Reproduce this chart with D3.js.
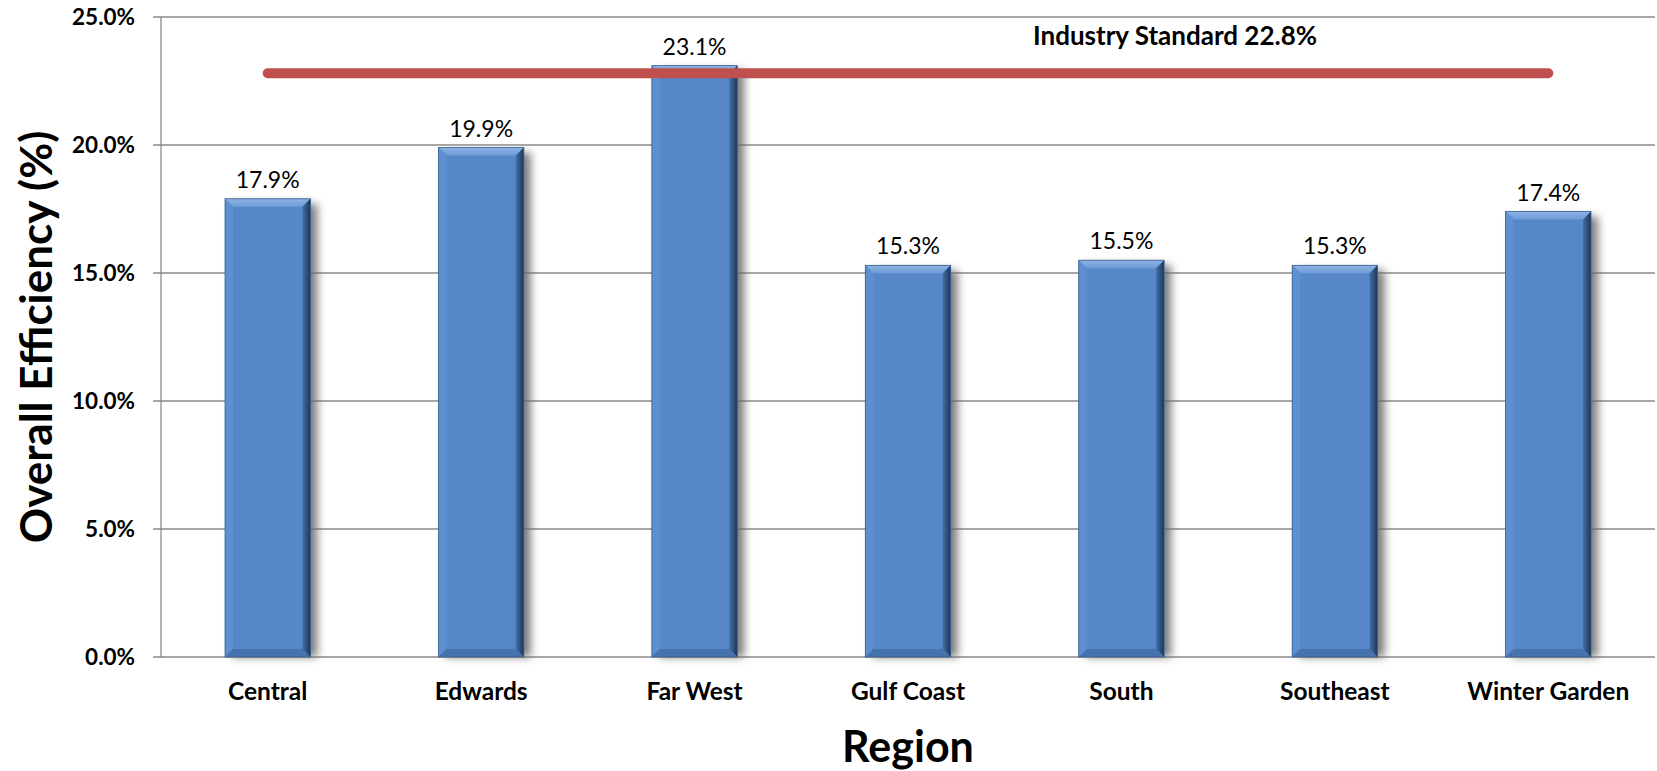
<!DOCTYPE html>
<html>
<head>
<meta charset="utf-8">
<script src="https://cdn.jsdelivr.net/npm/d3@7"></script>
<style>
  body { margin: 0; background: #fff; }
  svg { display: block; font-family: Lato, "Open Sans", sans-serif; }
</style>
</head>
<body>
<div id="chart"></div>
<script>
var regions = ['Central', 'Edwards', 'Far West', 'Gulf Coast', 'South', 'Southeast', 'Winter Garden'];
var efficiency = [17.9, 19.9, 23.1, 15.3, 15.5, 15.3, 17.4];
var yTicks = [0, 5, 10, 15, 20, 25];
var industryStandard = 22.8;

var width = 1657,
    height = 771;
var plotLeft = 161, plotRight = 1655, plotTop = 17, plotBottom = 657;

var svg = d3.select('#chart').append('svg')
    .attr('width', width)
    .attr('height', height);

var defs = svg.append('defs');
defs.append('filter')
    .attr('id', 'blur')
    .attr('x', '-50%').attr('y', '-10%')
    .attr('width', '200%').attr('height', '130%')
    .append('feGaussianBlur')
    .attr('stdDeviation', 4);

var rightGrad = defs.append('linearGradient')
    .attr('id', 'rightEdge')
    .attr('x1', 0).attr('x2', 1).attr('y1', 0).attr('y2', 0);
rightGrad.append('stop').attr('offset', '0%').attr('stop-color', '#4470a8');
rightGrad.append('stop').attr('offset', '100%').attr('stop-color', '#1c3556');

var topGrad = defs.append('linearGradient')
    .attr('id', 'topEdge')
    .attr('x1', 0).attr('x2', 0).attr('y1', 0).attr('y2', 1);
topGrad.append('stop').attr('offset', '0%').attr('stop-color', '#8db3e4');
topGrad.append('stop').attr('offset', '100%').attr('stop-color', '#6d9bd6');

var x = d3.scaleBand()
    .domain(regions)
    .range([plotLeft, plotRight])
    .paddingInner(0.6)
    .paddingOuter(0.3);

var y = d3.scaleLinear()
    .domain([0, 25])
    .range([plotBottom, plotTop]);

// gridlines
svg.append('g')
    .selectAll('line')
    .data(yTicks)
    .enter()
    .append('line')
    .attr('x1', plotLeft - 8)
    .attr('x2', plotRight)
    .attr('y1', function(d) { return y(d); })
    .attr('y2', function(d) { return y(d); })
    .style('stroke', '#8a8a8a')
    .style('stroke-width', 1.3);

// y axis line
svg.append('line')
    .attr('x1', plotLeft).attr('x2', plotLeft)
    .attr('y1', y(25)).attr('y2', y(0))
    .style('stroke', '#8a8a8a')
    .style('stroke-width', 1.3);

// y tick labels
svg.append('g')
    .selectAll('text')
    .data(yTicks)
    .enter()
    .append('text')
    .attr('x', plotLeft - 26)
    .attr('y', function(d) { return y(d) + 8; })
    .attr('text-anchor', 'end')
    .style('font-size', '22.5px')
    .style('font-weight', 'bold')
    .text(function(d) { return d3.format('.1f')(d) + '%'; });

// bars
var bw = x.bandwidth();
var bev = 8;
var bars = svg.append('g')
    .selectAll('g')
    .data(regions)
    .enter()
    .append('g')
    .attr('transform', function(d) { return 'translate(' + x(d) + ',0)'; });

// drop shadow
bars.append('rect')
    .attr('x', 7)
    .attr('y', function(d, i) { return y(efficiency[i]) + 5; })
    .attr('width', bw)
    .attr('height', function(d, i) { return y(0) - y(efficiency[i]) - 5; })
    .style('fill', '#666')
    .style('opacity', 0.85)
    .attr('filter', 'url(#blur)');

bars.append('rect')
    .attr('x', 0)
    .attr('y', function(d, i) { return y(efficiency[i]); })
    .attr('width', bw)
    .attr('height', function(d, i) { return y(0) - y(efficiency[i]); })
    .style('fill', '#5688c9');

function bevel(sel, pts, fill) {
    sel.append('polygon')
        .attr('points', function(d, i) {
            var t = y(efficiency[i]), b = y(0);
            return pts(t, b).map(function(p) { return p.join(','); }).join(' ');
        })
        .style('fill', fill);
}
// top
bevel(bars, function(t, b) { return [[0, t], [bw, t], [bw - bev, t + bev], [bev, t + bev]]; }, 'url(#topEdge)');
// left
bevel(bars, function(t, b) { return [[0, t], [bev, t + bev], [bev, b - bev], [0, b]]; }, '#5e8fce');
// right
bevel(bars, function(t, b) { return [[bw, t], [bw, b], [bw - bev, b - bev], [bw - bev, t + bev]]; }, 'url(#rightEdge)');
// bottom
bevel(bars, function(t, b) { return [[0, b], [bev, b - bev], [bw - bev, b - bev], [bw, b]]; }, '#4673ad');

bars.append('rect')
    .attr('x', 0)
    .attr('y', function(d, i) { return y(efficiency[i]); })
    .attr('width', bw)
    .attr('height', function(d, i) { return y(0) - y(efficiency[i]); })
    .style('fill', 'none')
    .style('stroke', '#3a5f8f')
    .style('stroke-width', 0.8);

// value labels
bars.append('text')
    .attr('x', bw / 2)
    .attr('y', function(d, i) { return y(efficiency[i]) - 11; })
    .attr('text-anchor', 'middle')
    .style('font-size', '23px')
    .text(function(d, i) { return d3.format('.1f')(efficiency[i]) + '%'; });

// industry standard line
svg.append('line')
    .attr('x1', x(regions[0]) + bw / 2)
    .attr('x2', x(regions[regions.length - 1]) + bw / 2)
    .attr('y1', y(industryStandard))
    .attr('y2', y(industryStandard))
    .style('stroke', '#c0504d')
    .style('stroke-width', 10)
    .style('stroke-linecap', 'round');

svg.append('text')
    .attr('x', 1175)
    .attr('y', 45)
    .attr('text-anchor', 'middle')
    .style('font-size', '26px')
    .style('font-weight', 'bold')
    .text('Industry Standard ' + d3.format('.1f')(industryStandard) + '%');

// category labels
svg.append('g')
    .selectAll('text')
    .data(regions)
    .enter()
    .append('text')
    .attr('x', function(d) { return x(d) + bw / 2; })
    .attr('y', 700)
    .attr('text-anchor', 'middle')
    .style('font-size', '24.5px')
    .style('font-weight', 'bold')
    .text(function(d) { return d; });

// axis titles
svg.append('text')
    .attr('x', (plotLeft + plotRight) / 2)
    .attr('y', 762)
    .attr('text-anchor', 'middle')
    .style('font-size', '43px')
    .style('font-weight', 'bold')
    .text('Region');

svg.append('text')
    .attr('transform', 'translate(52,' + (plotTop + plotBottom) / 2 + ') rotate(-90)')
    .attr('text-anchor', 'middle')
    .style('font-size', '44px')
    .style('font-weight', 'bold')
    .text('Overall Efficiency (%)');
</script>
</body>
</html>
